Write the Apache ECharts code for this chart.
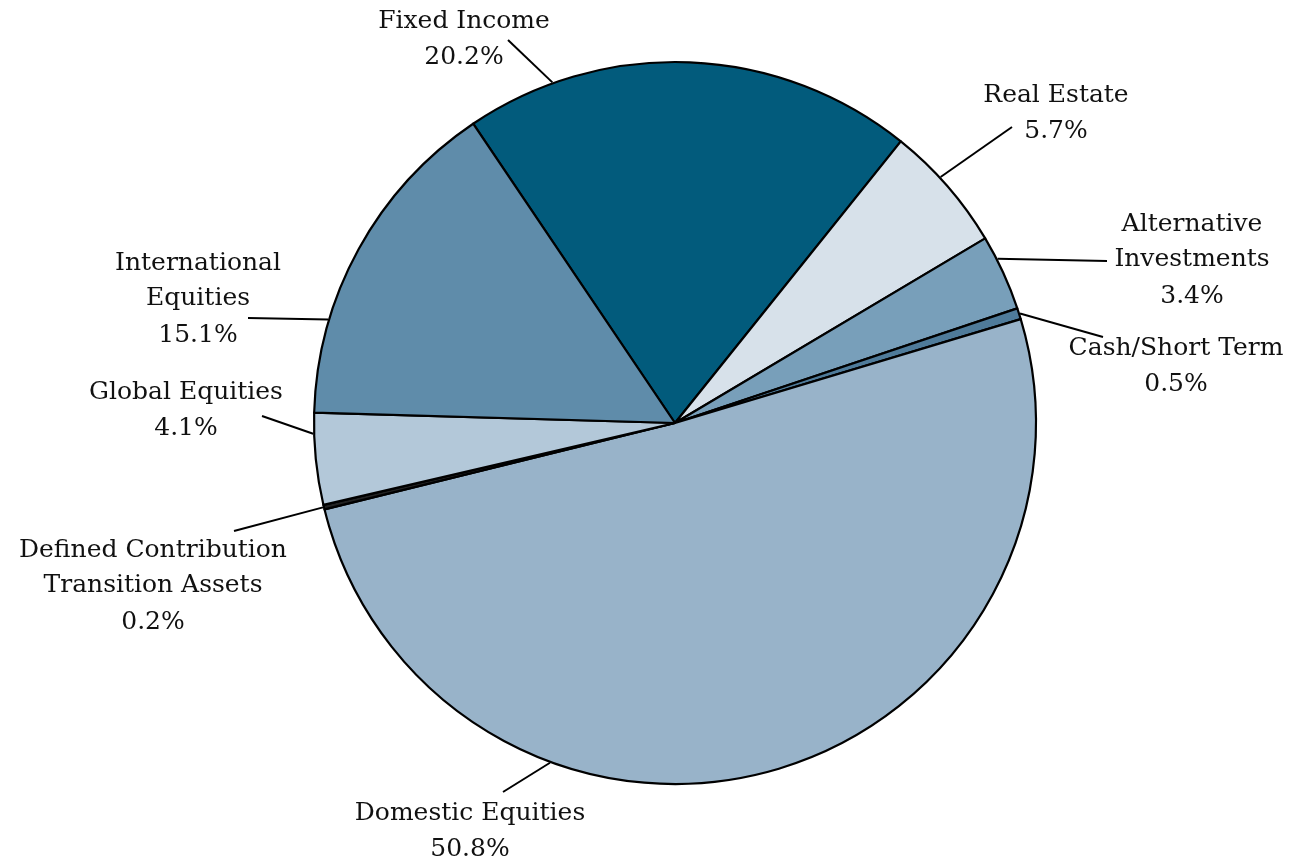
<!DOCTYPE html>
<html>
<head>
<meta charset="utf-8">
<script src="https://cdn.jsdelivr.net/npm/echarts@6/dist/echarts.min.js"></script>
<style>
  html, body { margin: 0; padding: 0; background: #ffffff; }
  #chart { width: 1297px; height: 867px; }
</style>
</head>
<body>
<div id="chart"></div>
<script>
// Asset allocation, listed clockwise from the top slice
const categories = [
  'Fixed Income',
  'Real Estate',
  'Alternative\nInvestments',
  'Cash/Short Term',
  'Domestic Equities',
  'Defined Contribution\nTransition Assets',
  'Global Equities',
  'International\nEquities'
];
const shares = [20.2, 5.7, 3.4, 0.5, 50.8, 0.2, 4.1, 15.1];
const sliceColors = ['#025b7c', '#d7e1ea', '#789fba', '#4f7b9a', '#98b3c9', '#222222', '#b3c8d9', '#5f8caa'];

// Pie geometry
const CENTER = [675, 423];
const RADIUS = 361;
const START_ANGLE = 124;

// Label placement: centre of the text block, angle (deg) where the leader
// leaves the rim (null = middle of the slice) and the leader's far end.
const labelSpots = [
  { x: 464,  y: 40,  rim: 109.8, end: [508, 40] },
  { x: 1056, y: 114, rim: 42.8,  end: [1012, 127] },
  { x: 1192, y: 261, rim: 27,    end: [1107, 261] },
  { x: 1176, y: 367, rim: null,  end: [1103, 337] },
  { x: 470,  y: 832, rim: 249.8, end: [503, 792] },
  { x: 153,  y: 587, rim: null,  end: [234, 531] },
  { x: 186,  y: 411, rim: 181.7, end: [262, 416] },
  { x: 198,  y: 300, rim: 163.4, end: [248, 318] }
];

// middle angle of each slice, measured counter-clockwise from 3 o'clock
const total = shares.reduce((a, b) => a + b, 0);
const midAngles = [];
let acc = START_ANGLE;
shares.forEach(v => {
  const span = v / total * 360;
  midAngles.push(acc - span / 2);
  acc -= span;
});

const chart = echarts.init(document.getElementById('chart'), null, { renderer: 'canvas' });

chart.setOption({
  animation: false,
  backgroundColor: '#ffffff',
  series: [{
    type: 'pie',
    center: CENTER,
    radius: RADIUS,
    startAngle: START_ANGLE,
    clockwise: true,
    avoidLabelOverlap: false,
    emphasis: { disabled: true },
    itemStyle: { borderColor: '#000000', borderWidth: 2.2 },
    label: {
      show: true,
      position: 'outside',
      formatter: p => '{n|' + p.name.split('\n').join('}\n{n|') + '}\n{p|' + p.value.toFixed(1) + '%}',
      rich: {
        n: { fontFamily: 'DejaVu Serif', fontSize: 25, lineHeight: 35, color: '#111111', align: 'center' },
        p: { fontFamily: 'DejaVu Serif', fontSize: 25, lineHeight: 38, color: '#111111', align: 'center' }
      }
    },
    labelLine: {
      show: true,
      length: 10,
      length2: 10,
      lineStyle: { color: '#000000', width: 2 }
    },
    labelLayout: params => {
      const i = params.dataIndex;
      const s = labelSpots[i];
      const a = (s.rim == null ? midAngles[i] : s.rim) * Math.PI / 180;
      const p0 = [CENTER[0] + (RADIUS + 1) * Math.cos(a), CENTER[1] - (RADIUS + 1) * Math.sin(a)];
      return {
        x: s.x,
        y: s.y,
        align: 'center',
        verticalAlign: 'middle',
        labelLinePoints: [p0, s.end]
      };
    },
    data: categories.map((name, i) => ({
      name: name,
      value: shares[i],
      itemStyle: { color: sliceColors[i] }
    }))
  }]
});
</script>
</body>
</html>
